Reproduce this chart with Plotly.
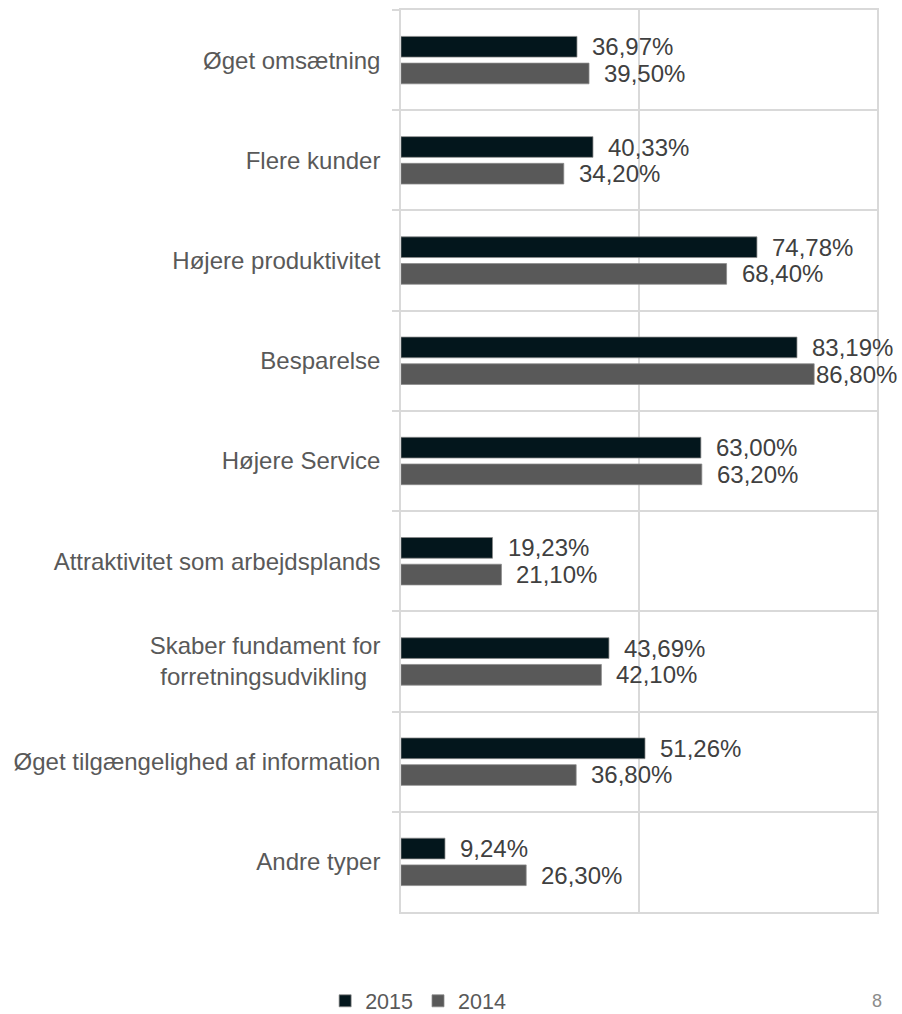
import plotly.graph_objects as go

# Survey answers: share of respondents per benefit, 2015 vs 2014
categories = [
    "Øget omsætning",
    "Flere kunder",
    "Højere produktivitet",
    "Besparelse",
    "Højere Service",
    "Attraktivitet som arbejdsplands",
    "Skaber fundament for<br>forretningsudvikling\u00a0\u00a0",
    "Øget tilgængelighed af information",
    "Andre typer",
]
values_2015 = [36.97, 40.33, 74.78, 83.19, 63.00, 19.23, 43.69, 51.26, 9.24]
values_2014 = [39.50, 34.20, 68.40, 86.80, 63.20, 21.10, 42.10, 36.80, 26.30]
series_names = ["2015", "2014"]
series_colors = ["#03161c", "#595959"]

FONT = "Liberation Sans, Arial, sans-serif"
GRID = "#d9d9d9"
WIDTH, HEIGHT = 902, 1014
M_L, M_R, M_T, M_B = 401, 25, 10, 102
X_MAX = 100
LABEL_GAP = 13        # px between bar end and its value label
LABEL_W = 82          # approx. rendered width of a value label


def pct(v):
    return f"{v:.2f}".replace(".", ",") + "%"


fig = go.Figure()
for name, vals, color in zip(series_names, [values_2015, values_2014], series_colors):
    fig.add_trace(go.Bar(
        name=name,
        y=categories,
        x=vals,
        orientation="h",
        marker=dict(color=color, line=dict(color="#8a8a8a", width=0.75)),
        hoverinfo="skip",
    ))

# Value labels to the right of each bar; a label that would run past the
# right edge of the page hugs its bar instead.
px_per_unit = (WIDTH - M_L - M_R) / X_MAX
annotations = []
for vals, shift in [(values_2015, 13.3), (values_2014, -13.3)]:
    for cat, v in zip(categories, vals):
        right_edge = M_L + v * px_per_unit + LABEL_GAP + LABEL_W
        gap = LABEL_GAP if right_edge <= WIDTH - 4 else 0
        annotations.append(dict(
            x=v, y=cat, xref="x", yref="y",
            text=pct(v), showarrow=False,
            xanchor="left", yanchor="middle",
            xshift=gap, yshift=shift,
            font=dict(family=FONT, size=24, color="#404040"),
        ))

# Page number
annotations.append(dict(
    x=1.0, y=-0.0987, xref="paper", yref="paper",
    text="8", showarrow=False, xanchor="center", yanchor="middle",
    font=dict(family=FONT, size=18, color="#8c8c8c"),
))

fig.update_layout(
    width=WIDTH, height=HEIGHT,
    margin=dict(l=M_L, r=M_R, t=M_T, b=M_B, autoexpand=False),
    paper_bgcolor="white", plot_bgcolor="white",
    barmode="group", bargap=0.467, bargroupgap=0.225,
    font=dict(family=FONT, size=24, color="#595959"),
    annotations=annotations,
    legend=dict(
        orientation="h", x=0.036, xanchor="center", y=-0.0985, yanchor="middle",
        font=dict(family=FONT, size=21.5, color="#595959"),
        itemwidth=30, traceorder="normal",
    ),
    xaxis=dict(
        range=[0, X_MAX], dtick=50, showticklabels=False,
        showgrid=True, gridcolor=GRID, gridwidth=1.5,
        showline=True, mirror=True, linecolor=GRID, linewidth=1.5,
        zeroline=False, fixedrange=True,
    ),
    yaxis=dict(
        type="category", autorange="reversed",
        tickson="boundaries", ticks="outside", ticklen=7,
        tickcolor=GRID, tickwidth=1.5,
        showgrid=True, gridcolor=GRID, gridwidth=1.5,
        showline=True, mirror=True, linecolor=GRID, linewidth=1.5,
        ticklabelstandoff=14,
        tickfont=dict(family=FONT, size=24, color="#595959"),
        zeroline=False, fixedrange=True,
    ),
)

fig.write_html("out.html")
